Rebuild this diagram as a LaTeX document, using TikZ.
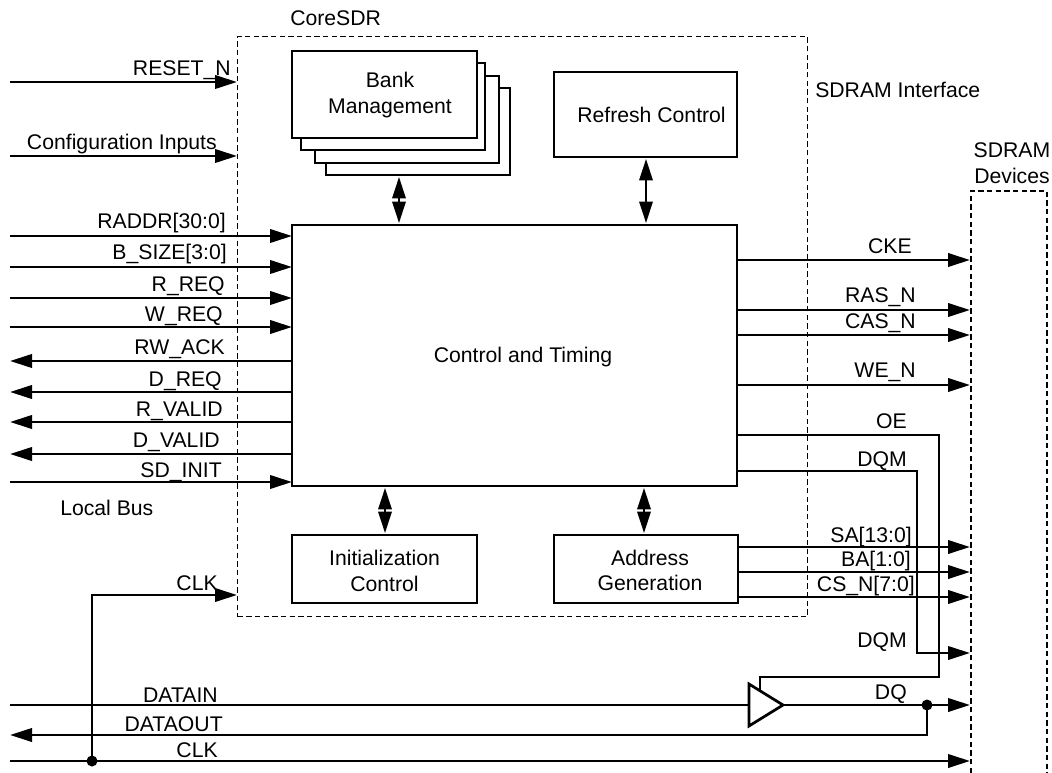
\documentclass[tikz,border=0pt]{standalone}
\usepackage{fontspec}
\setmainfont{Liberation Sans}
\usetikzlibrary{arrows.meta,shapes.geometric}
\def\u{0.75pt}
\begin{document}
\begin{tikzpicture}[
  x=0.75pt, y=-0.75pt,
  box/.style={draw, fill=white, line width=2.05pt, anchor=north west, inner sep=0pt, outer sep=0pt},
  lbl/.style={inner sep=0pt, align=center, font=\fontsize{15.9}{19.2}\selectfont},
  sig/.style={anchor=base east, inner sep=0pt, font=\fontsize{15.9}{19.2}\selectfont},
  txt/.style={anchor=base west, inner sep=0pt, font=\fontsize{15.9}{19.2}\selectfont},
  arrow/.style={-{Triangle[length=16.5pt,width=10pt]}, line width=2.05pt},
  biarrow/.style={{Triangle[length=16pt,width=10pt]}-{Triangle[length=16pt,width=10pt]}, line width=1.7pt,
                  shorten <=2*\u, shorten >=2*\u},
  wire/.style={line width=2.05pt},
  frame/.style={draw, dashed, line width=0.9pt, dash pattern=on 4pt off 2.5pt},
  dot/.style={circle, fill=black, inner sep=0pt, minimum size=11*\u},
  buffer/.style={isosceles triangle, isosceles triangle stretches, draw, fill=white, line width=2.05pt,
                 anchor=apex, inner sep=0pt, outer sep=0pt, minimum height=34*\u, minimum width=42*\u},
]
\useasboundingbox (0,0) rectangle (1052,773);

% Dashed frames
\node[frame, anchor=north west, inner sep=0pt, minimum width=570*\u, minimum height=580*\u] (core) at (237,36) {};
\node[txt] (lbl_core) at (290,26) {CoreSDR};
\node[txt] (lbl_iface) at (815,98) {SDRAM Interface};
\coordinate (dev_bl) at (971,773);
\coordinate (dev_tl) at (971,191);
\coordinate (dev_tr) at (1047,191);
\coordinate (dev_br) at (1047,773);
\draw[frame] (dev_bl) -- (dev_tl) -- (dev_tr) -- (dev_br);
\node[lbl] (lbl_dev) at (1012,163) {SDRAM\\Devices};

% === Blocks inside the core ===
\node[box, minimum width=184*\u, minimum height=87*\u] (bank4) at (326,88) {};
\node[box, minimum width=184*\u, minimum height=87*\u] (bank3) at (315,76) {};
\node[box, minimum width=184*\u, minimum height=87*\u] (bank2) at (301,63) {};
\node[box, minimum width=185*\u, minimum height=87*\u] (bank1) at (292,51) {};
\node[lbl] (lbl_bank) at (390,95) {Bank\\Management};
\node[box, minimum width=183*\u, minimum height=85*\u] (refresh) at (554,72) {};
\node[lbl] (lbl_refresh) at (651.5,115) {Refresh Control};
\node[box, minimum width=445*\u, minimum height=261*\u] (ctl) at (292,225) {};
\node[lbl] (lbl_ctl) at (523,357) {Control and Timing};
\node[box, minimum width=185*\u, minimum height=68*\u] (init) at (292,535) {};
\node[lbl] (lbl_init) at (384.5,571) {Initialization\\Control};
\node[box, minimum width=184*\u, minimum height=68*\u] (addr) at (554,535) {};
\node[lbl] (lbl_addr) at (650,570.5) {Address\\Generation};

\coordinate (bank_x) at (399,200);
\draw[biarrow] (bank4.south -| bank_x) -- (ctl.north -| bank_x);
\coordinate (refresh_x) at (646,200);
\draw[biarrow] (refresh.south -| refresh_x) -- (ctl.north -| refresh_x);
\coordinate (init_x) at (385,510);
\draw[biarrow] (ctl.south -| init_x) -- (init.north -| init_x);
\coordinate (addr_x) at (644,510);
\draw[biarrow] (ctl.south -| addr_x) -- (addr.north -| addr_x);

% === Local bus, left side ===
\coordinate (reset_l) at (10,82);
\draw[arrow] (reset_l) -- (core.west |- reset_l);
\node[sig] (lbl_reset) at (231,76) {RESET\_N};

\coordinate (config_l) at (10,156);
\draw[arrow] (config_l) -- (core.west |- config_l);
\node[sig] (lbl_config) at (217,150) {Configuration Inputs};

\coordinate (raddr_l) at (10,236);
\draw[arrow] (raddr_l) -- (ctl.west |- raddr_l);
\node[sig] (lbl_raddr) at (226,229) {RADDR[30:0]};

\coordinate (bsize_l) at (10,267);
\draw[arrow] (bsize_l) -- (ctl.west |- bsize_l);
\node[sig] (lbl_bsize) at (227,260) {B\_SIZE[3:0]};

\coordinate (rreq_l) at (10,298);
\draw[arrow] (rreq_l) -- (ctl.west |- rreq_l);
\node[sig] (lbl_rreq) at (225,292) {R\_REQ};

\coordinate (wreq_l) at (10,327);
\draw[arrow] (wreq_l) -- (ctl.west |- wreq_l);
\node[sig] (lbl_wreq) at (223,322) {W\_REQ};

\coordinate (rwack_l) at (10,361);
\draw[arrow] (ctl.west |- rwack_l) -- (rwack_l);
\node[sig] (lbl_rwack) at (225,354) {RW\_ACK};

\coordinate (dreq_l) at (10,392);
\draw[arrow] (ctl.west |- dreq_l) -- (dreq_l);
\node[sig] (lbl_dreq) at (222,386) {D\_REQ};

\coordinate (rvalid_l) at (10,422);
\draw[arrow] (ctl.west |- rvalid_l) -- (rvalid_l);
\node[sig] (lbl_rvalid) at (223,416) {R\_VALID};

\coordinate (dvalid_l) at (10,454);
\draw[arrow] (ctl.west |- dvalid_l) -- (dvalid_l);
\node[sig] (lbl_dvalid) at (220,447) {D\_VALID};

\coordinate (sdinit_l) at (10,482);
\draw[arrow] (sdinit_l) -- (ctl.west |- sdinit_l);
\node[sig] (lbl_sdinit) at (222,477) {SD\_INIT};

\node[txt] (lbl_bus) at (60,515) {Local Bus};

% === SDRAM side ===
\coordinate (cke_r) at (970,260);
\draw[arrow] (ctl.east |- cke_r) -- (cke_r);
\node[sig] (lbl_cke) at (912,254) {CKE};

\coordinate (ras_r) at (970,310);
\draw[arrow] (ctl.east |- ras_r) -- (ras_r);
\node[sig] (lbl_ras) at (916,303) {RAS\_N};

\coordinate (cas_r) at (970,335);
\draw[arrow] (ctl.east |- cas_r) -- (cas_r);
\node[sig] (lbl_cas) at (916,329) {CAS\_N};

\coordinate (we_r) at (970,385);
\draw[arrow] (ctl.east |- we_r) -- (we_r);
\node[sig] (lbl_we) at (916,378) {WE\_N};

\coordinate (sa_r) at (970,547);
\draw[arrow] (addr.east |- sa_r) -- (sa_r);
\node[sig] (lbl_sa) at (912,542) {SA[13:0]};

\coordinate (ba_r) at (970,572);
\draw[arrow] (addr.east |- ba_r) -- (ba_r);
\node[sig] (lbl_ba) at (911,566) {BA[1:0]};

\coordinate (cs_r) at (970,597);
\draw[arrow] (addr.east |- cs_r) -- (cs_r);
\node[sig] (lbl_cs) at (915,591) {CS\_N[7:0]};

% DQM goes down to the devices
\coordinate (dqm_a) at (917,471);
\coordinate (dqm_r) at (970,653);
\draw[arrow] (ctl.east |- dqm_a) -- (dqm_a) |- (dqm_r);
\node[sig] (lbl_dqm) at (907,466) {DQM};
\node[sig] (lbl_dqmb) at (907,647) {DQM};

% Output buffer with its enable
\node[buffer] (buf) at (783,705) {};
\coordinate (oe_a) at (939,435);
\coordinate (oe_b) at (939,677);
\coordinate (oe_c) at (760,677);
\coordinate (oe_d) at (760,691);
\draw[wire] (ctl.east |- oe_a) -- (oe_a) -- (oe_b) -- (oe_c) -- (oe_d);
\node[sig] (lbl_oe) at (907,428) {OE};

% === Data and clock, bottom ===
\coordinate (datain_l) at (10,705);
\draw[wire] (datain_l) -- (buf.lower side);
\node[sig] (lbl_datain) at (218,702) {DATAIN};

\coordinate (dq_r) at (970,705);
\draw[arrow] (buf.apex) -- (dq_r);
\node[sig] (lbl_dq) at (907,699) {DQ};
\node[dot] (dot_dq) at (927,705) {};

\coordinate (dataout_l) at (10,735);
\draw[arrow] (dot_dq.center) |- (dataout_l);
\node[sig] (lbl_dataout) at (223,731) {DATAOUT};

\coordinate (clk_l) at (10,761);
\coordinate (clk_r) at (970,761);
\draw[arrow] (clk_l) -- (clk_r);
\node[sig] (lbl_clkb) at (218,757) {CLK};
\node[dot] (dot_clk) at (92,761) {};

\coordinate (clk_in) at (237,595);
\draw[arrow] (dot_clk.center) |- (clk_in);
\node[sig] (lbl_clk) at (218,590) {CLK};

\end{tikzpicture}
\end{document}
